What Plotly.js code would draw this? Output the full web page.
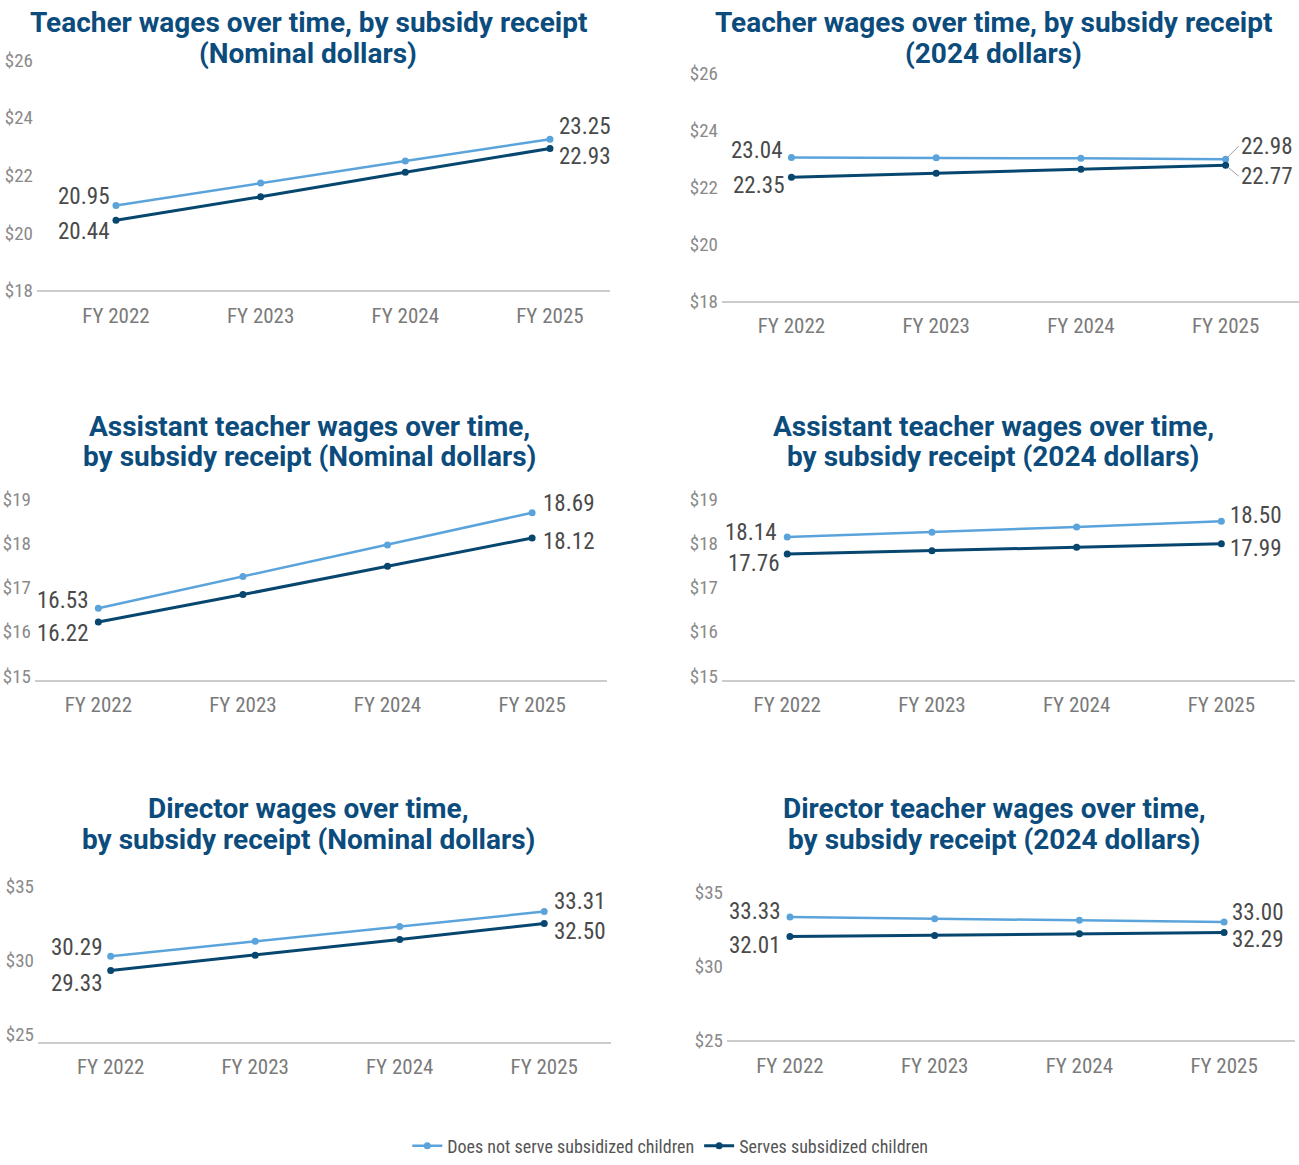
<!DOCTYPE html>
<html>
<head>
<meta charset="utf-8">
<script src="https://cdn.plot.ly/plotly-3.0.1.min.js"></script>
<style>
  html, body { margin: 0; padding: 0; background: #ffffff; }
  #chart { width: 1299px; height: 1165px; }
  text[style*="Roboto Condensed"] { font-stretch: condensed; }
</style>
</head>
<body>
<div id="chart"></div>
<script>
// ---------------- DATA ----------------
const years = ['FY 2022', 'FY 2023', 'FY 2024', 'FY 2025'];
const seriesNames = ['Does not serve subsidized children', 'Serves subsidized children'];

const teacherNomNoSub = [20.95, 21.73, 22.49, 23.25];
const teacherNomSub   = [20.44, 21.25, 22.10, 22.93];

const teacherRealNoSub = [23.04, 23.03, 23.01, 22.98];
const teacherRealSub   = [22.35, 22.49, 22.63, 22.77];

const assistNomNoSub = [16.53, 17.25, 17.96, 18.69];
const assistNomSub   = [16.22, 16.84, 17.48, 18.12];

const assistRealNoSub = [18.14, 18.25, 18.37, 18.50];
const assistRealSub   = [17.76, 17.83, 17.91, 17.99];

const directorNomNoSub = [30.29, 31.31, 32.31, 33.31];
const directorNomSub   = [29.33, 30.36, 31.43, 32.50];

const directorRealNoSub = [33.33, 33.22, 33.11, 33.00];
const directorRealSub   = [32.01, 32.09, 32.21, 32.29];

const chartTitles = [
  ['Teacher wages over time, by subsidy receipt', '(Nominal dollars)'],
  ['Teacher wages over time, by subsidy receipt', '(2024 dollars)'],
  ['Assistant teacher wages over time,', 'by subsidy receipt (Nominal dollars)'],
  ['Assistant teacher wages over time,', 'by subsidy receipt (2024 dollars)'],
  ['Director wages over time,', 'by subsidy receipt (Nominal dollars)'],
  ['Director teacher wages over time,', 'by subsidy receipt (2024 dollars)']
];

// ---------------- STYLE / LAYOUT CONFIG ----------------
const W = 1299, H = 1165;
const colLight = '#5ba4db';
const colDark = '#07466f';
const titleColor = '#0b4c7d';
const condFont = 'Roboto Condensed, Roboto, sans-serif';
const titleFont = 'Roboto, sans-serif';

const panels = [
  { noSub: teacherNomNoSub, sub: teacherNomSub,
    px: [37, 610], xr: [-0.546, 3.415], py: [292.5, 58.9], yr: [18, 26.05], dtick: 2,
    title: [308, 23, 54],
    lab: { nf: [-5, 9], nl: [7, 13], sf: [-5, -11], sl: [7, -8] } },
  { noSub: teacherRealNoSub, sub: teacherRealSub,
    px: [722, 1299], xr: [-0.48, 3.507], py: [303.2, 72.2], yr: [18, 26.05], dtick: 2,
    title: [993, 23, 54],
    lab: { nf: [-7, 7], nl: [13, 13], sf: [-5, -8], sl: [13, -11] }, connector: true },
  { noSub: assistNomNoSub, sub: assistNomSub,
    px: [35, 607], xr: [-0.438, 3.518], py: [685, 500.3], yr: [14.9, 19.05], dtick: 1,
    title: [309, 429, 460],
    lab: { nf: [-8, 8], nl: [9, 9], sf: [-8, -12], sl: [9, -4] } },
  { noSub: assistRealNoSub, sub: assistRealSub,
    px: [722, 1295], xr: [-0.451, 3.509], py: [685, 500.3], yr: [14.9, 19.05], dtick: 1,
    title: [993, 429, 460],
    lab: { nf: [-9, 5], nl: [7, 6], sf: [-6, -10], sl: [7, -5] } },
  { noSub: directorNomNoSub, sub: directorNomSub,
    px: [38, 611], xr: [-0.503, 3.462], py: [1049, 890.5], yr: [24.51, 35.15], dtick: 5,
    title: [308, 814, 845],
    lab: { nf: [-7, 9], nl: [8, 10], sf: [-7, -13], sl: [8, -8] } },
  { noSub: directorRealNoSub, sub: directorRealSub,
    px: [727, 1295], xr: [-0.435, 3.49], py: [1047.5, 896.3], yr: [25, 35.15], dtick: 5,
    title: [994, 814, 845],
    lab: { nf: [-8, 6], nl: [6, 9], sf: [-8, -9], sl: [6, -7] } }
];

const traces = [];
const annotations = [];
const layout = {
  width: W, height: H,
  margin: { l: 0, r: 0, t: 0, b: 0 },
  paper_bgcolor: '#ffffff', plot_bgcolor: '#ffffff',
  showlegend: true,
  legend: {
    orientation: 'h', x: 0.516, xanchor: 'center', y: 1 - 1154 / H, yanchor: 'middle',
    font: { family: condFont, size: 18, color: '#555555' },
    itemwidth: 30, tracegroupgap: 0
  },
  annotations: annotations
};

const labelFont = { family: condFont, size: 23, color: '#4a4a4a' };

panels.forEach((p, i) => {
  const n = i + 1;
  const xa = 'x' + (n === 1 ? '' : n);
  const ya = 'y' + (n === 1 ? '' : n);
  const xKey = 'xaxis' + (n === 1 ? '' : n);
  const yKey = 'yaxis' + (n === 1 ? '' : n);

  layout[xKey] = {
    domain: [p.px[0] / W, p.px[1] / W],
    anchor: ya, type: 'category', range: p.xr,
    showgrid: false, zeroline: false,
    showline: true, linecolor: '#cccccc', linewidth: 2,
    ticks: '', tickfont: { family: condFont, size: 21, color: '#7a7a7a' },
    ticklabelstandoff: 5, fixedrange: true
  };
  layout[yKey] = {
    domain: [1 - p.py[0] / H, 1 - p.py[1] / H],
    anchor: xa, range: p.yr, dtick: p.dtick, tick0: 0,
    tickprefix: '$', showgrid: false, zeroline: false, showline: false,
    ticks: '', tickfont: { family: condFont, size: 19, color: '#8a8a8a' },
    ticklabelstandoff: 3, fixedrange: true
  };

  const series = [
    { y: p.noSub, name: seriesNames[0], color: colLight, width: 2.5, size: 7 },
    { y: p.sub, name: seriesNames[1], color: colDark, width: 3, size: 7 }
  ];
  series.forEach(s => {
    traces.push({
      type: 'scatter', mode: 'lines+markers',
      x: years, y: s.y, name: s.name,
      xaxis: xa, yaxis: ya,
      line: { color: s.color, width: s.width },
      marker: { color: s.color, size: s.size },
      showlegend: i === 0,
      hoverinfo: 'skip'
    });
  });

  // data labels from the first and last values of each series
  const last = years.length - 1;
  const labSpecs = [
    { arr: p.noSub, idx: 0, off: p.lab.nf, anchor: 'right' },
    { arr: p.noSub, idx: last, off: p.lab.nl, anchor: 'left' },
    { arr: p.sub, idx: 0, off: p.lab.sf, anchor: 'right' },
    { arr: p.sub, idx: last, off: p.lab.sl, anchor: 'left' }
  ];
  labSpecs.forEach(l => {
    const a = {
      xref: xa, yref: ya, x: years[l.idx], y: l.arr[l.idx],
      text: l.arr[l.idx].toFixed(2), font: labelFont,
      xanchor: l.anchor, yanchor: 'middle'
    };
    if (p.connector && l.idx === last) {
      a.showarrow = true; a.arrowhead = 0; a.arrowwidth = 1; a.arrowcolor = '#a0a0a0';
      a.ax = l.off[0]; a.ay = -l.off[1]; a.standoff = 3;
    } else {
      a.showarrow = false; a.xshift = l.off[0]; a.yshift = l.off[1];
    }
    annotations.push(a);
  });

  chartTitles[i].forEach((line, j) => {
    annotations.push({
      xref: 'paper', yref: 'paper', x: p.title[0] / W, y: 1 - p.title[1 + j] / H,
      xanchor: 'center', yanchor: 'middle', showarrow: false,
      text: line,
      font: { family: titleFont, size: 28, color: titleColor, weight: 700 }
    });
  });
});

Plotly.newPlot('chart', traces, layout, { displayModeBar: false, staticPlot: true });
</script>
</body>
</html>
